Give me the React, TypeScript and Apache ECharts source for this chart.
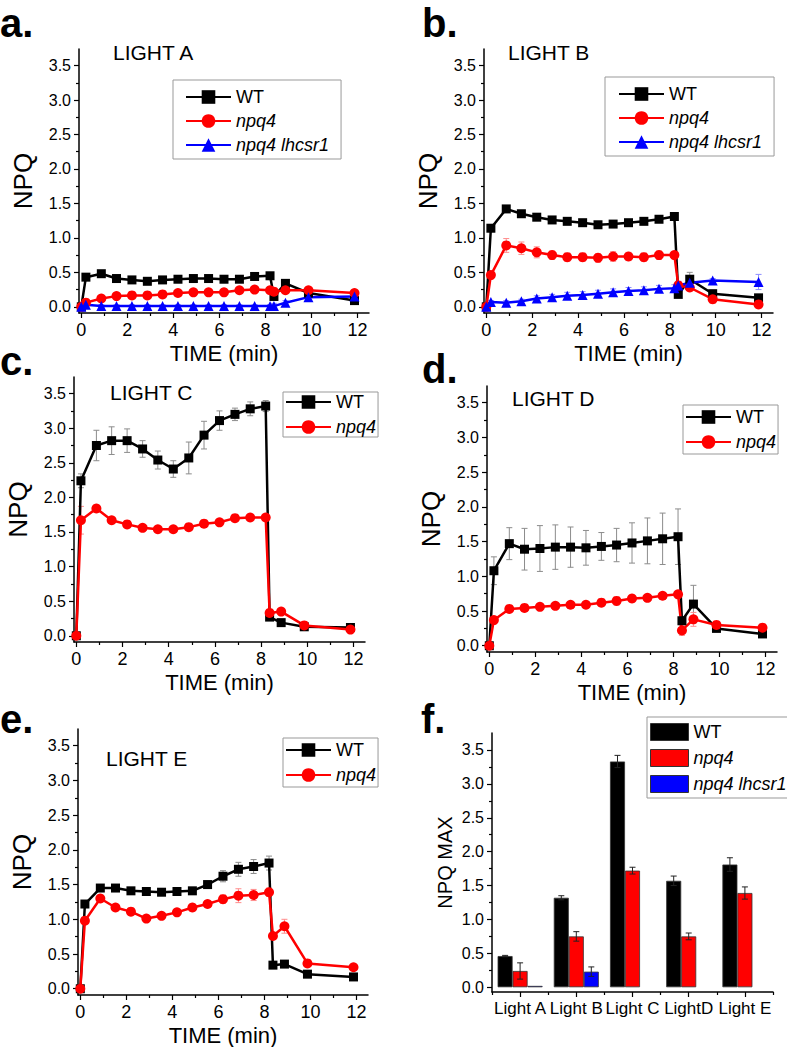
import React, { useEffect, useRef } from "react";
import * as echarts from "echarts";

// ---------- data ----------
const TIMES = [0, 0.2, 0.87, 1.53, 2.2, 2.87, 3.53, 4.2, 4.87, 5.53, 6.2, 6.87, 7.53, 8.2, 8.37, 8.87, 9.87, 11.87];

const A_WT = [0, 0.43, 0.48, 0.41, 0.39, 0.37, 0.39, 0.4, 0.41, 0.41, 0.4, 0.4, 0.44, 0.45, 0.15, 0.34, 0.2, 0.09];
const A_NPQ4 = [0, 0.06, 0.12, 0.155, 0.165, 0.165, 0.18, 0.2, 0.21, 0.21, 0.21, 0.24, 0.25, 0.24, 0.22, 0.24, 0.24, 0.2];
const A_LHCSR1 = [0, 0.03, 0.01, 0.01, 0.01, 0.01, 0.01, 0.01, 0.01, 0.01, 0.01, 0.01, 0.01, 0.01, 0.01, 0.06, 0.14, 0.15];
const A_WT_ERR = [0, 0.02, 0.02, 0.02, 0.02, 0.02, 0.02, 0.02, 0.02, 0.02, 0.02, 0.02, 0.02, 0.02, 0.04, 0.03, 0.02, 0.02];
const A_NPQ4_ERR = [0, 0.02, 0.03, 0.03, 0.03, 0.03, 0.03, 0.04, 0.04, 0.05, 0.05, 0.04, 0.04, 0.05, 0.04, 0.03, 0.03, 0.02];
const A_LHCSR1_ERR = [0, 0.02, 0.02, 0.02, 0.02, 0.02, 0.02, 0.02, 0.02, 0.02, 0.02, 0.02, 0.02, 0.02, 0.04, 0.03, 0.03, 0.02];

const B_WT = [0, 1.14, 1.42, 1.35, 1.3, 1.26, 1.24, 1.22, 1.19, 1.2, 1.22, 1.24, 1.27, 1.31, 0.18, 0.4, 0.19, 0.13];
const B_NPQ4 = [0, 0.46, 0.89, 0.85, 0.79, 0.75, 0.72, 0.72, 0.71, 0.73, 0.73, 0.72, 0.75, 0.75, 0.31, 0.28, 0.11, 0.035];
const B_LHCSR1 = [0, 0.07, 0.06, 0.08, 0.12, 0.14, 0.16, 0.17, 0.19, 0.21, 0.23, 0.24, 0.26, 0.27, 0.31, 0.35, 0.38, 0.36];
const B_WT_ERR = [0, 0.05, 0.03, 0.03, 0.02, 0.02, 0.02, 0.02, 0.02, 0.02, 0.02, 0.02, 0.02, 0.02, 0.04, 0.1, 0.05, 0.03];
const B_NPQ4_ERR = [0, 0.04, 0.1, 0.09, 0.08, 0.06, 0.06, 0.06, 0.06, 0.07, 0.06, 0.06, 0.06, 0.05, 0.05, 0.04, 0.06, 0.05];
const B_LHCSR1_ERR = [0, 0.02, 0.03, 0.03, 0.04, 0.04, 0.05, 0.05, 0.05, 0.05, 0.05, 0.05, 0.05, 0.05, 0.06, 0.05, 0.03, 0.11];

const C_WT = [0, 2.24, 2.75, 2.82, 2.82, 2.7, 2.54, 2.41, 2.57, 2.9, 3.11, 3.2, 3.28, 3.32, 0.27, 0.19, 0.13, 0.12];
const C_NPQ4 = [0, 1.67, 1.84, 1.67, 1.61, 1.56, 1.54, 1.54, 1.57, 1.62, 1.64, 1.7, 1.71, 1.71, 0.33, 0.35, 0.15, 0.09];
const C_WT_ERR = [0, 0.1, 0.22, 0.2, 0.17, 0.12, 0.13, 0.12, 0.23, 0.2, 0.14, 0.09, 0.1, 0.08, 0.02, 0.02, 0.02, 0.02];
const C_NPQ4_ERR = [0, 0.2, 0.05, 0.03, 0.03, 0.03, 0.03, 0.03, 0.03, 0.03, 0.03, 0.03, 0.03, 0.03, 0.03, 0.03, 0.02, 0.02];

const D_WT = [0, 1.08, 1.47, 1.39, 1.4, 1.42, 1.42, 1.41, 1.43, 1.45, 1.48, 1.51, 1.54, 1.57, 0.36, 0.6, 0.25, 0.17];
const D_NPQ4 = [0, 0.37, 0.53, 0.545, 0.56, 0.575, 0.59, 0.59, 0.62, 0.645, 0.68, 0.69, 0.72, 0.74, 0.22, 0.38, 0.3, 0.26];
const D_WT_ERR = [0, 0.2, 0.23, 0.3, 0.33, 0.32, 0.29, 0.25, 0.2, 0.24, 0.29, 0.33, 0.37, 0.4, 0.05, 0.27, 0.03, 0.03];
const D_NPQ4_ERR = [0, 0.04, 0.03, 0.03, 0.03, 0.03, 0.03, 0.04, 0.05, 0.06, 0.05, 0.04, 0.04, 0.03, 0.07, 0.1, 0.03, 0.03];

const E_WT = [0, 1.22, 1.45, 1.45, 1.41, 1.4, 1.39, 1.4, 1.41, 1.5, 1.62, 1.72, 1.76, 1.81, 0.34, 0.355, 0.21, 0.17];
const E_NPQ4 = [0, 0.98, 1.3, 1.17, 1.11, 1.01, 1.05, 1.1, 1.17, 1.22, 1.29, 1.34, 1.35, 1.39, 0.76, 0.9, 0.365, 0.31];
const E_WT_ERR = [0, 0.04, 0.03, 0.03, 0.03, 0.03, 0.03, 0.03, 0.03, 0.05, 0.08, 0.1, 0.1, 0.1, 0.03, 0.03, 0.02, 0.02];
const E_NPQ4_ERR = [0, 0.04, 0.05, 0.04, 0.04, 0.04, 0.04, 0.04, 0.05, 0.05, 0.06, 0.1, 0.08, 0.06, 0.05, 0.1, 0.03, 0.03];

const F_CATS = ["Light A", "Light B", "Light C", "LightD", "Light E"];
const F_WT = [0.46, 1.32, 3.33, 1.57, 1.81];
const F_NPQ4 = [0.24, 0.75, 1.72, 0.75, 1.39];
const F_LHCSR1 = [0.02, 0.23, null, null, null];
const F_WT_ERR = [0.01, 0.03, 0.09, 0.07, 0.1];
const F_NPQ4_ERR = [0.12, 0.07, 0.05, 0.05, 0.09];
const F_LHCSR1_ERR = [0, 0.07, 0, 0, 0];

const X_MAJOR = [0, 2, 4, 6, 8, 10, 12];
const X_MINOR = [1, 3, 5, 7, 9, 11];
const Y_MAJOR = [0, 0.5, 1, 1.5, 2, 2.5, 3, 3.5];
const Y_MINOR = [0.25, 0.75, 1.25, 1.75, 2.25, 2.75, 3.25];

const SERIES_NAMES = ["WT", "npq4", "npq4 lhcsr1"];

// ---------- styles ----------
const FONT = "'Liberation Sans', Arial, Helvetica, sans-serif";
const NARROW = "'Liberation Sans Narrow', 'Arial Narrow', 'Liberation Sans', sans-serif";
const X_RANGE = [-0.1, 12.5];
const Y_RANGE = [-0.09, 3.74];
const F_Y_RANGE = [-0.07, 3.75];
const BAR_W = 15;

const LOOK: any = {
  WT: { color: "#000000", symbol: "rect", size: 9, err: "#8c8c8c" },
  npq4: { color: "#ff0000", symbol: "circle", size: 10, err: "#ff8c8c" },
  "npq4 lhcsr1": { color: "#0000ff", symbol: "triangle", size: 10, err: "#8c8cff" },
};

const PANELS: any[] = [
  {
    letter: "a.", letterXY: [0, 22.5], title: "LIGHT A", titleXY: [113, 52],
    grid: { left: 79, top: 49, width: 290, height: 264 },
    lines: [[A_WT, A_WT_ERR], [A_NPQ4, A_NPQ4_ERR], [A_LHCSR1, A_LHCSR1_ERR]],
    legend: { left: 173, top: 80, padding: [8, 12, 5, 12], itemGap: 6 },
  },
  {
    letter: "b.", letterXY: [422, 22.5], title: "LIGHT B", titleXY: [508, 52],
    grid: { left: 484, top: 49, width: 289, height: 264 },
    lines: [[B_WT, B_WT_ERR], [B_NPQ4, B_NPQ4_ERR], [B_LHCSR1, B_LHCSR1_ERR]],
    legend: { left: 605, top: 77, padding: [8, 12, 5, 13], itemGap: 6 },
  },
  {
    letter: "c.", letterXY: [0, 361], title: "LIGHT C", titleXY: [110, 392],
    grid: { left: 74, top: 377, width: 291, height: 265 },
    lines: [[C_WT, C_WT_ERR], [C_NPQ4, C_NPQ4_ERR]],
    legend: { left: 283, top: 392, padding: [1, 2, 1, 2], itemGap: 7 },
  },
  {
    letter: "d.", letterXY: [422, 369], title: "LIGHT D", titleXY: [512, 398],
    grid: { left: 487, top: 386, width: 290, height: 266 },
    lines: [[D_WT, D_WT_ERR], [D_NPQ4, D_NPQ4_ERR]],
    legend: { left: 683, top: 405, padding: [3, 2, 3, 2], itemGap: 7 },
  },
  {
    letter: "e.", letterXY: [0, 719], title: "LIGHT E", titleXY: [106, 758],
    grid: { left: 78, top: 729, width: 290, height: 266 },
    lines: [[E_WT, E_WT_ERR], [E_NPQ4, E_NPQ4_ERR]],
    legend: { left: 283, top: 738, padding: [3, 2, 3, 2], itemGap: 7 },
  },
];

const F_PANEL = {
  letter: "f.", letterXY: [421, 719],
  grid: { left: 492, top: 733, width: 281, height: 259 },
  bars: [[F_WT, F_WT_ERR], [F_NPQ4, F_NPQ4_ERR], [F_LHCSR1, F_LHCSR1_ERR]],
  legend: { left: 647, top: 717, padding: [6, 1, 5, 3], itemGap: 8 },
};

const AXIS_LINE = { color: "#000", width: 1.5 };
const TICK_LINE = { color: "#000", width: 1.2 };

function errRender(color: string, cap: number, offset: number) {
  return (params: any, api: any) => {
    const x = api.value(0);
    const lo = api.value(1);
    const hi = api.value(2);
    const p1 = api.coord([x, hi]);
    const p2 = api.coord([x, lo]);
    const cx = p1[0] + offset;
    const st = { stroke: color, lineWidth: 1 };
    return {
      type: "group",
      children: [
        { type: "line", shape: { x1: cx, y1: p1[1], x2: cx, y2: p2[1] }, style: st },
        { type: "line", shape: { x1: cx - cap, y1: p1[1], x2: cx + cap, y2: p1[1] }, style: st },
        { type: "line", shape: { x1: cx - cap, y1: p2[1], x2: cx + cap, y2: p2[1] }, style: st },
      ],
    };
  };
}

function legendText() {
  return {
    fontSize: 18,
    fontFamily: FONT,
    color: "#000",
    lineHeight: 18,
    rich: { i: { fontStyle: "italic", fontSize: 18, fontFamily: FONT, color: "#000", lineHeight: 18 } },
  };
}
const legendFormatter = (n: string) => (n === "WT" ? n : `{i|${n}}`);

function buildOption() {
  const grid: any[] = [];
  const xAxis: any[] = [];
  const yAxis: any[] = [];
  const series: any[] = [];
  const errSeries: any[] = [];
  const legend: any[] = [];
  const graphics: any[] = [];

  const letterText = (txt: string, xy: number[]) => ({
    type: "text",
    x: xy[0],
    y: xy[1],
    style: {
      text: txt, fill: "#000", fontSize: 40, fontWeight: "bold", fontFamily: FONT,
      align: "left", verticalAlign: "middle", textAlign: "left", textVerticalAlign: "middle",
    },
  });
  const titleText = (txt: string, xy: number[]) => ({
    type: "text",
    x: xy[0],
    y: xy[1],
    style: {
      text: txt, fill: "#000", fontSize: 21, fontFamily: FONT,
      align: "left", verticalAlign: "middle", textAlign: "left", textVerticalAlign: "middle",
    },
  });

  const yLabel = {
    show: true, customValues: Y_MAJOR, margin: 8, fontSize: 16, color: "#000", fontFamily: FONT,
    formatter: (v: number) => Number(v).toFixed(1),
  };

  PANELS.forEach((p, gi) => {
    grid.push({ ...p.grid, containLabel: false, outerBoundsMode: "none" });
    const xi = xAxis.length;
    const yi = yAxis.length;
    xAxis.push({
      type: "value", gridIndex: gi, position: "bottom", min: X_RANGE[0], max: X_RANGE[1],
      splitLine: { show: false },
      axisLine: { show: true, onZero: false, lineStyle: AXIS_LINE },
      axisTick: { show: true, inside: false, length: 5, customValues: X_MAJOR, lineStyle: TICK_LINE },
      axisLabel: { show: true, customValues: X_MAJOR, margin: 8, fontSize: 18, color: "#000", fontFamily: FONT },
      name: "TIME (min)", nameLocation: "middle", nameGap: 29,
      nameTextStyle: { fontSize: 22, color: "#000", fontFamily: FONT },
    });
    xAxis.push({
      type: "value", gridIndex: gi, position: "bottom", min: X_RANGE[0], max: X_RANGE[1],
      splitLine: { show: false },
      axisLine: { show: false, onZero: false },
      axisTick: { show: true, inside: false, length: 3, customValues: X_MINOR, lineStyle: TICK_LINE },
      axisLabel: { show: false },
    });
    yAxis.push({
      type: "value", gridIndex: gi, position: "left", min: Y_RANGE[0], max: Y_RANGE[1],
      splitLine: { show: false },
      axisLine: { show: true, onZero: false, lineStyle: AXIS_LINE },
      axisTick: { show: true, inside: false, length: 5, customValues: Y_MAJOR, lineStyle: TICK_LINE },
      axisLabel: yLabel,
      name: "NPQ", nameLocation: "middle", nameGap: 43, nameRotate: 90,
      nameTextStyle: { fontSize: 26, color: "#000", fontFamily: FONT },
    });
    yAxis.push({
      type: "value", gridIndex: gi, position: "left", min: Y_RANGE[0], max: Y_RANGE[1],
      splitLine: { show: false },
      axisLine: { show: false, onZero: false },
      axisTick: { show: true, inside: false, length: 3, customValues: Y_MINOR, lineStyle: TICK_LINE },
      axisLabel: { show: false },
    });

    const names: string[] = [];
    p.lines.forEach((pair: any[], si: number) => {
      const name = SERIES_NAMES[si];
      names.push(name);
      const look = LOOK[name];
      const vals = pair[0];
      const errs = pair[1];
      errSeries.push({
        type: "custom", name: name + " error " + gi, xAxisIndex: xi, yAxisIndex: yi, silent: true, z: 1,
        renderItem: errRender(look.err, 3, 0),
        data: TIMES.map((t, i) => [t, vals[i] - errs[i], vals[i] + errs[i]]).filter((d, i) => errs[i] > 0),
      });
      series.push({
        type: "line", name, xAxisIndex: xi, yAxisIndex: yi, z: 3,
        symbol: look.symbol, symbolSize: look.size, showSymbol: true,
        lineStyle: { color: look.color, width: 2.5 },
        itemStyle: { color: look.color },
        data: TIMES.map((t, i) => [t, vals[i]]),
      });
    });

    legend.push({
      orient: "vertical", left: p.legend.left, top: p.legend.top, padding: p.legend.padding,
      itemGap: p.legend.itemGap, itemWidth: 45, itemHeight: 17,
      borderColor: "#999", borderWidth: 1, backgroundColor: "#fff",
      selectedMode: false, data: names,
      textStyle: legendText(), formatter: legendFormatter,
    });

    graphics.push(letterText(p.letter, p.letterXY));
    graphics.push(titleText(p.title, p.titleXY));
  });

  // ----- panel f -----
  const gf = grid.length;
  grid.push({ ...F_PANEL.grid, containLabel: false, outerBoundsMode: "none" });
  const fxi = xAxis.length;
  const fyi = yAxis.length;
  xAxis.push({
    type: "category", gridIndex: gf, position: "bottom", data: F_CATS, boundaryGap: true,
    axisLine: { show: true, onZero: false, lineStyle: AXIS_LINE },
    axisTick: { show: true, inside: false, alignWithLabel: true, interval: 0, length: 5, lineStyle: TICK_LINE },
    axisLabel: { show: true, interval: 0, margin: 8, fontSize: 17, color: "#000", fontFamily: NARROW },
    splitLine: { show: false },
  });
  xAxis.push({
    type: "category", gridIndex: gf, position: "bottom", data: F_CATS, boundaryGap: true,
    axisLine: { show: false, onZero: false },
    axisTick: { show: true, inside: false, alignWithLabel: false, interval: 0, length: 3, lineStyle: TICK_LINE },
    axisLabel: { show: false },
    splitLine: { show: false },
  });
  yAxis.push({
    type: "value", gridIndex: gf, position: "left", min: F_Y_RANGE[0], max: F_Y_RANGE[1],
    splitLine: { show: false },
    axisLine: { show: true, onZero: false, lineStyle: AXIS_LINE },
    axisTick: { show: true, inside: false, length: 5, customValues: Y_MAJOR, lineStyle: TICK_LINE },
    axisLabel: yLabel,
    name: "NPQ MAX", nameLocation: "middle", nameGap: 37, nameRotate: 90,
    nameTextStyle: { fontSize: 20, color: "#000", fontFamily: FONT },
  });
  yAxis.push({
    type: "value", gridIndex: gf, position: "left", min: F_Y_RANGE[0], max: F_Y_RANGE[1],
    splitLine: { show: false },
    axisLine: { show: false, onZero: false },
    axisTick: { show: true, inside: false, length: 3, customValues: Y_MINOR, lineStyle: TICK_LINE },
    axisLabel: { show: false },
  });

  const barSeries: any[] = [];
  const barErr: any[] = [];
  F_PANEL.bars.forEach((pair: any[], bi: number) => {
    const name = SERIES_NAMES[bi];
    const look = LOOK[name];
    const vals = pair[0];
    const errs = pair[1];
    barSeries.push({
      type: "bar", name, xAxisIndex: fxi, yAxisIndex: fyi, barWidth: BAR_W, barGap: "0%", z: 2,
      itemStyle: { color: look.color, borderColor: "#333", borderWidth: 0.8 },
      data: vals,
    });
    barErr.push({
      type: "custom", name: name + " max error", xAxisIndex: fxi, yAxisIndex: fyi, silent: true, z: 4,
      renderItem: errRender("#222", 3, (bi - 1) * BAR_W),
      data: F_CATS.map((c, i) => [i, (vals[i] || 0) - errs[i], (vals[i] || 0) + errs[i]]).filter(
        (d, i) => vals[i] != null && errs[i] > 0
      ),
    });
  });

  legend.push({
    orient: "vertical", left: F_PANEL.legend.left, top: F_PANEL.legend.top, padding: F_PANEL.legend.padding,
    itemGap: F_PANEL.legend.itemGap, itemWidth: 38, itemHeight: 17, icon: "rect",
    itemStyle: { borderColor: "#333", borderWidth: 1 },
    borderColor: "#999", borderWidth: 1, backgroundColor: "#fff",
    selectedMode: false, data: SERIES_NAMES,
    textStyle: legendText(), formatter: legendFormatter,
  });
  graphics.push(letterText(F_PANEL.letter, F_PANEL.letterXY));

  return {
    animation: false,
    backgroundColor: "#fff",
    textStyle: { fontFamily: FONT },
    grid,
    xAxis,
    yAxis,
    legend,
    series: [...series, ...errSeries, ...barSeries, ...barErr],
    graphic: { elements: graphics },
  };
}

export default function App() {
  const ref = useRef<HTMLDivElement>(null);
  useEffect(() => {
    if (!ref.current) return;
    const chart = echarts.init(ref.current, null, { renderer: "svg" });
    chart.setOption(buildOption() as any);
    return () => chart.dispose();
  }, []);
  return (
    <div
      ref={ref}
      style={{ position: "absolute", left: 0, top: 0, width: 787, height: 1047, background: "#fff" }}
    />
  );
}
